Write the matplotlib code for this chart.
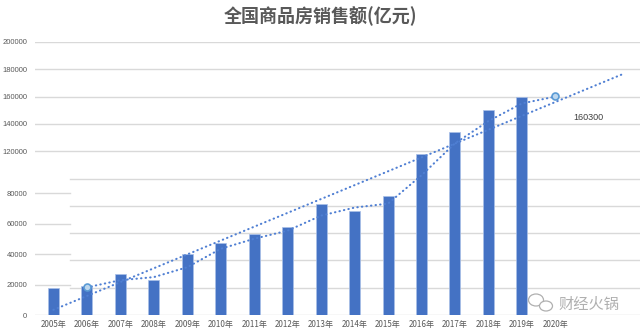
import numpy as np
import matplotlib
matplotlib.use('Agg')
import matplotlib.pyplot as plt
from matplotlib.patches import Ellipse

plt.rcParams['font.family'] = ['Noto Sans CJK SC', 'DejaVu Sans']

# data (亿元)
years = ['2005年', '2006年', '2007年', '2008年', '2009年', '2010年', '2011年', '2012年',
         '2013年', '2014年', '2015年', '2016年', '2017年', '2018年', '2019年', '2020年']
sales = [19500, 21000, 30000, 25500, 44500, 52500, 59200, 64400,
         81200, 76200, 87000, 117700, 133800, 150300, 159700]
forecast_2020 = 160300

upper_ticks = [120000, 140000, 160000, 180000, 200000]
lower_grid = [0, 20000, 40000, 60000, 80000, 100000]
strip_ticks = [0, 20000, 40000, 60000, 80000]   # labels of the pasted strip on the left
strip_scale = 1.117                               # that strip was pasted at another scale

blue = '#4472C4'
dotc = '#4F7FD3'
gray = '#595959'
gridc = '#D9D9D9'

fig = plt.figure(figsize=(6.41, 3.35), dpi=100)
ax = fig.add_axes([35/641, 20/335, 605/641, 273/335])
ax.set_xlim(-0.55, 17.53)
ax.set_ylim(0, 200000)
for s in ax.spines.values():
    s.set_visible(False)

# grid lines
strip_end = (70 - 35) / 605
for v in upper_ticks:
    ax.axhline(v, color=gridc, lw=1, zorder=0)
for v in lower_grid:
    ax.axhline(v, xmin=0 if v == 0 else strip_end, color=gridc, lw=1, zorder=0)
for v in strip_ticks[1:]:
    ax.axhline(v * strip_scale, xmax=strip_end, color=gridc, lw=1, zorder=0)

x = np.arange(len(sales))
ax.bar(x, sales, width=0.33, color=blue, edgecolor='#A9C0E8', linewidth=0.5, zorder=2)

dots = (0, (0.2, 2.0))

# linear trend, forecast two periods ahead
k, b = np.polyfit(x, sales, 1)
xt = np.array([0, 17.0])
ax.plot(xt, k * xt + b, color=dotc, lw=1.5, ls=dots, dash_capstyle='round', zorder=3)

# 2-period moving average
vals = np.array(sales + [forecast_2020], dtype=float)
ma = (vals[1:] + vals[:-1]) / 2
xm = np.arange(1, len(vals))
ax.plot(xm, ma, color=dotc, lw=1.5, ls=dots, dash_capstyle='round', zorder=3)
ax.plot([1, 15], [ma[0], forecast_2020], ls='none', marker='o', ms=5,
        mfc='#BDD7EE', mec='#5B9BD5', mew=1.2, zorder=4)
ax.text(15.55, 145000, str(forecast_2020), fontsize=6.5, color='#404040',
        family=['Liberation Sans'], va='center', ha='left')

# axis labels
yt = upper_ticks + [v * strip_scale for v in strip_ticks]
yl = [str(v) for v in upper_ticks + strip_ticks]
ax.set_yticks(yt, yl)
ax.set_xticks(np.arange(len(years)), years)
ax.tick_params(axis='y', length=0, pad=5.5, labelsize=5.5, labelcolor=gray)
ax.tick_params(axis='x', length=0, pad=3.5, labelsize=5.8, labelcolor=gray)
for t in ax.get_yticklabels():
    t.set_family(['Liberation Sans'])

fig.text(0.5, 1 - 16/335, '全国商品房销售额(亿元)', ha='center', va='center',
         fontsize=13, fontweight='bold', color=gray)

# watermark
fig.text(558/641, 1 - 304/335, '财经火锅', ha='left', va='center', fontsize=11, color='#B0B0B0')
fig.add_artist(Ellipse((536/641, 1 - 300/335), 15/641, 12/335, fill=False,
                       ec='#B0B0B0', lw=0.9, transform=fig.transFigure))
fig.add_artist(Ellipse((546/641, 1 - 306/335), 13/641, 10/335, fc='white',
                       ec='#B0B0B0', lw=0.9, transform=fig.transFigure))

fig.savefig('out.png', dpi=100)
